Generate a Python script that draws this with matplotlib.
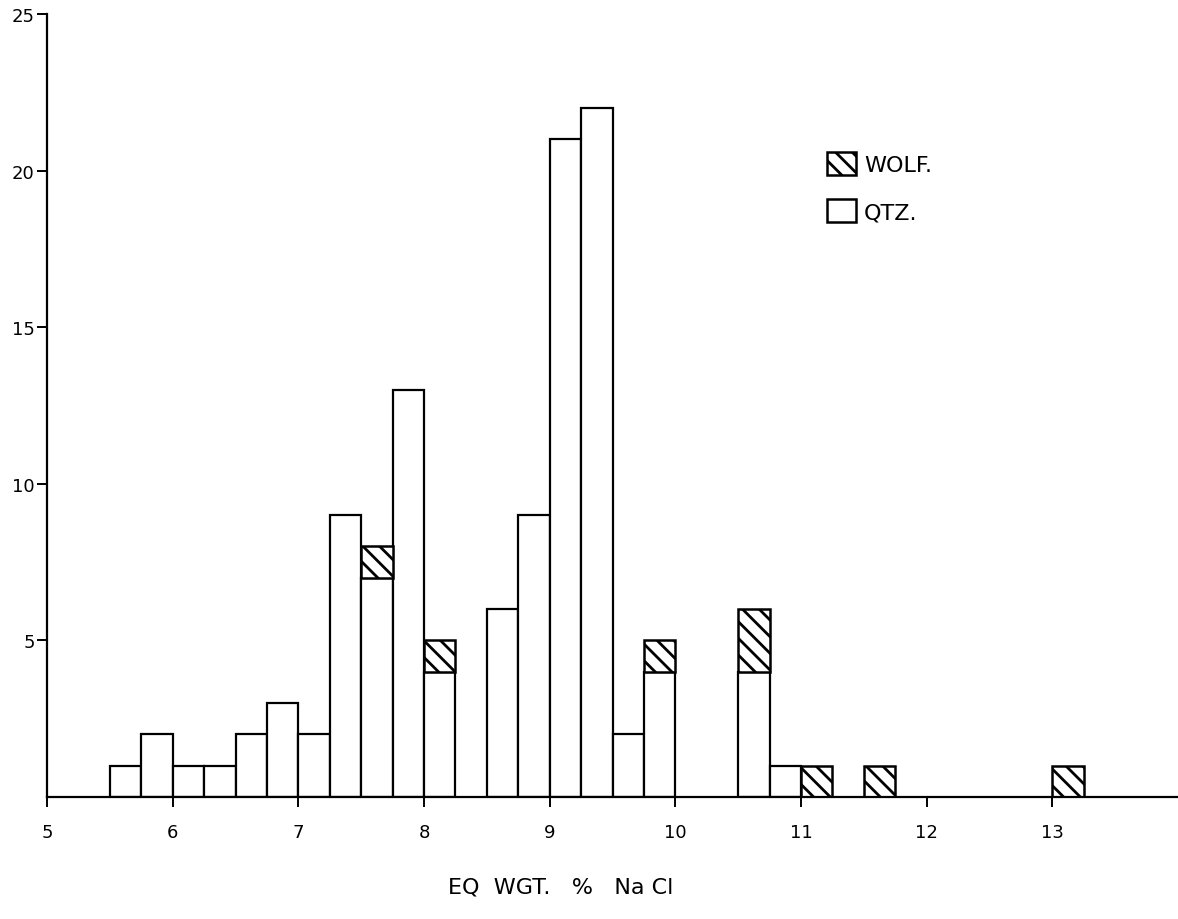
import numpy as np
import matplotlib.pyplot as plt
from matplotlib.patches import Patch

# left edges of the 0.25-wide classes
bin_left = [5.5, 5.75, 6.0, 6.25, 6.5, 6.75, 7.0, 7.25, 7.5, 7.75, 8.0, 8.25,
            8.5, 8.75, 9.0, 9.25, 9.5, 9.75, 10.0, 10.25, 10.5, 10.75,
            11.0, 11.25, 11.5, 11.75, 12.0, 12.25, 12.5, 12.75, 13.0]
qtz = [1, 2, 1, 1, 2, 3, 2, 9, 7, 13, 4, 0,
       6, 9, 21, 22, 2, 4, 0, 0, 4, 1,
       0, 0, 0, 0, 0, 0, 0, 0, 0]
wolf = [0, 0, 0, 0, 0, 0, 0, 0, 1, 0, 1, 0,
        0, 0, 0, 0, 0, 1, 0, 0, 2, 0,
        1, 0, 1, 0, 0, 0, 0, 0, 1]

x_ticks = [5, 6, 7, 8, 9, 10, 11, 12, 13]
y_ticks = [5, 10, 15, 20, 25]

plt.rcParams['hatch.linewidth'] = 2.0
plt.rcParams['font.family'] = ['DejaVu Sans']

fig = plt.figure(figsize=(11.78, 9.2), dpi=100)
ax = fig.add_axes([0.040, 0.1326, 0.960, 0.851])

qtz = np.array(qtz)
wolf = np.array(wolf)

# quartz bars (only where non-zero)
m = qtz > 0
ax.bar(np.array(bin_left)[m], qtz[m], width=0.25, align='edge',
       facecolor='white', edgecolor='black', linewidth=1.6)
# wolframite stacked on top
m = wolf > 0
ax.bar(np.array(bin_left)[m], wolf[m], bottom=qtz[m], width=0.25, align='edge',
       facecolor='white', edgecolor='black', linewidth=1.8, hatch='\\\\')

ax.set_xlim(5, 14.0)
ax.set_ylim(0, 25)
ax.set_xticks(x_ticks)
ax.set_xticklabels([str(t) for t in x_ticks])
ax.set_yticks(y_ticks)
ax.set_yticklabels([str(t) for t in y_ticks])
ax.tick_params(axis='both', direction='out', length=7, width=1.4,
               labelsize=13, colors='black')
ax.tick_params(axis='y', pad=2)
ax.tick_params(axis='x', pad=12)

for s in ['top', 'right']:
    ax.spines[s].set_visible(False)
for s in ['left', 'bottom']:
    ax.spines[s].set_linewidth(1.6)
    ax.spines[s].set_color('black')

handles = [Patch(facecolor='white', edgecolor='black', hatch='\\\\', linewidth=1.8),
           Patch(facecolor='white', edgecolor='black', linewidth=1.8)]
ax.legend(handles, ['WOLF.', 'QTZ.'], loc='upper left',
          bbox_to_anchor=(0.68, 0.838), frameon=False, fontsize=16,
          handlelength=1.3, handleheight=1.2, labelspacing=1.1,
          handletextpad=0.35, borderpad=0)

fig.text(0.476, 0.035, 'EQ  WGT.   %   Na Cl', fontsize=16, ha='center', va='center')

fig.savefig('out.png', dpi=100, facecolor='white')
